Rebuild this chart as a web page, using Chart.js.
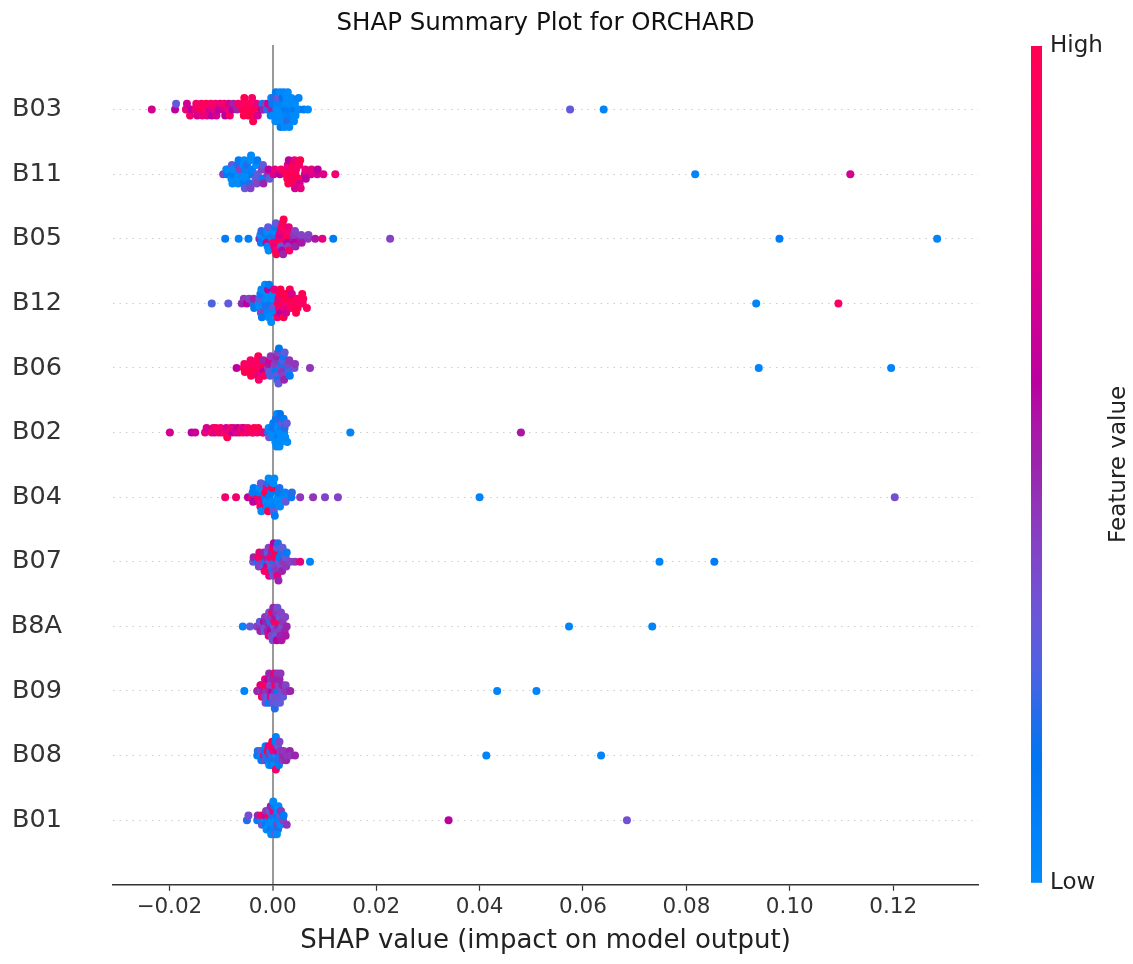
<!DOCTYPE html>
<html>
<head>
<meta charset="utf-8">
<title>SHAP Summary Plot for ORCHARD</title>
<script src="https://cdn.jsdelivr.net/npm/chart.js@4.4.1/dist/chart.umd.min.js"></script>
<style>
  body { margin: 0; background: #fff; }
  #wrap { width: 1133px; height: 964px; }
</style>
</head>
<body>
<div id="wrap"><canvas id="shapChart" width="1133" height="964"></canvas></div>
<script>
// features, top to bottom
var features = ['B03', 'B11', 'B05', 'B12', 'B06', 'B02', 'B04', 'B07', 'B8A', 'B09', 'B08', 'B01'];

var xTicks = [-0.02, 0, 0.02, 0.04, 0.06, 0.08, 0.10, 0.12];
var xTickLabels = ['\u22120.02', '0.00', '0.02', '0.04', '0.06', '0.08', '0.10', '0.12'];

// [shap value, feature value (0 = low, 1 = high)]
var b03 = [
  [-0.0234,.7],[-0.0189,.6],[-0.0187,.3],[-0.0168,.8],[-0.0166,.7],[-0.0160,.9],[-0.0157,.6],
  [-0.0150,.8],[-0.0148,.9],[-0.0146,.7],[-0.0140,1],[-0.0138,.9],[-0.0136,.8],
  [-0.0131,.9],[-0.0129,1],[-0.0127,.8],[-0.0122,.7],[-0.0120,.9],[-0.0118,.6],
  [-0.0113,.8],[-0.0111,.9],[-0.0109,.7],[-0.0104,.6],[-0.0102,.8],
  [-0.0096,.7],[-0.0094,.9],[-0.0092,.6],[-0.0087,.8],[-0.0085,.7],[-0.0083,.9],
  [-0.0078,.6],[-0.0076,.5],[-0.0069,.5],[-0.0067,.9],
  [-0.0059,1],[-0.0058,.9],[-0.0056,1],[-0.0055,1],
  [-0.0050,1],[-0.0049,.9],[-0.0047,1],[-0.0046,1],[-0.0045,.95],
  [-0.0041,1],[-0.0040,.9],[-0.0038,1],[-0.0036,1],
  [-0.0031,.8],[-0.0029,.7],[-0.0022,.6],[-0.0020,.1],[-0.0018,.5],
  [-0.0013,.4],[-0.0011,.2],[-0.0009,.7],
  [-0.0004,.1],[-0.0003,0],[-0.0002,.5],[-0.0001,.1],[0.0000,0],[0.0001,.2],
  [0.0005,0],[0.0006,.1],[0.0007,0],[0.0008,.05],[0.0009,0],[0.0010,.3],[0.0011,0],
  [0.0014,0],[0.0015,.1],[0.0016,0],[0.0017,.05],[0.0018,0],[0.0019,.15],[0.0020,0],[0.0021,.05],
  [0.0023,0],[0.0024,.1],[0.0025,0],[0.0026,.05],[0.0027,0],[0.0028,.2],[0.0029,0],
  [0.0032,0],[0.0033,.1],[0.0034,0],[0.0035,.05],[0.0036,0],
  [0.0041,0],[0.0042,.1],[0.0043,0],[0.0044,0],
  [0.0050,.05],[0.0051,0],[0.0060,.1],[0.0068,0],
  [0.0575,.3],[0.0640,.05]
];
var b11 = [
  [-0.0096,.4],
  [-0.0090,0],[-0.0089,.1],[-0.0087,0],
  [-0.0080,0],[-0.0079,.3],[-0.0078,0],[-0.0077,.1],[-0.0076,0],
  [-0.0069,0],[-0.0068,.2],[-0.0067,0],[-0.0066,.1],[-0.0065,0],[-0.0064,.4],[-0.0063,0],
  [-0.0057,0],[-0.0056,.1],[-0.0055,0],[-0.0054,.3],[-0.0053,0],[-0.0052,.05],[-0.0051,0],[-0.0050,.2],
  [-0.0045,.2],[-0.0044,0],[-0.0043,.4],[-0.0042,0],[-0.0041,.1],[-0.0040,.05],
  [-0.0033,.3],[-0.0032,0],[-0.0031,.4],[-0.0030,.1],[-0.0029,.3],
  [-0.0021,.4],[-0.0020,.1],[-0.0019,.3],[-0.0018,.5],
  [-0.0010,.45],[-0.0008,.6],[-0.0006,.3],
  [0.0002,.7],[0.0004,.8],
  [0.0014,.6],[0.0016,.9],
  [0.0026,1],[0.0027,.9],[0.0028,1],[0.0029,.8],[0.0030,1],[0.0031,.6],[0.0032,1],
  [0.0038,1],[0.0039,.9],[0.0040,1],[0.0041,1],[0.0042,.8],[0.0043,.7],[0.0044,1],[0.0045,.9],
  [0.0050,1],[0.0051,.9],[0.0052,.7],[0.0053,1],[0.0054,.8],
  [0.0062,.7],[0.0063,.8],[0.0064,.6],
  [0.0074,.7],[0.0075,.8],
  [0.0086,.7],[0.0087,.6],
  [0.0098,.75],[0.0121,.85],
  [0.0817,.05],[0.1117,.7]
];
var b05 = [
  [-0.0092,.1],[-0.0066,.05],[-0.0047,.1],
  [-0.0026,.5],[-0.0024,0],[-0.0023,.1],[-0.0022,.2],
  [-0.0014,0],[-0.0013,.1],[-0.0012,.7],[-0.0011,0],[-0.0010,.05],[-0.0009,.3],[-0.0008,0],
  [-0.0001,.05],[0.0000,.2],[0.0001,.9],[0.0002,0],[0.0003,.8],[0.0004,.1],[0.0005,.9],[0.0006,.3],[0.0007,1],
  [0.0012,.9],[0.0013,.7],[0.0014,1],[0.0015,.8],[0.0016,.3],[0.0017,.9],[0.0018,.6],[0.0019,.95],[0.0020,.5],[0.0021,1],
  [0.0026,.8],[0.0027,1],[0.0028,.6],[0.0029,.9],[0.0030,.4],[0.0031,.8],[0.0032,.9],
  [0.0040,.5],[0.0041,.45],[0.0042,.6],[0.0043,.4],[0.0044,.5],
  [0.0054,.5],[0.0055,.4],[0.0056,.55],
  [0.0068,.45],[0.0069,.4],
  [0.0082,.55],[0.0096,.8],[0.0117,.1],[0.0227,.4],
  [0.0980,.1],[0.1285,.05]
];
var b12 = [
  [-0.0118,.25],[-0.0086,.3],
  [-0.0060,.5],[-0.0056,.45],[-0.0050,.6],[-0.0046,.4],
  [-0.0038,.2],[-0.0037,.5],[-0.0036,.1],
  [-0.0027,0],[-0.0026,.3],[-0.0025,0],[-0.0024,.1],[-0.0023,.4],[-0.0022,0],[-0.0021,.1],
  [-0.0015,0],[-0.0014,.1],[-0.0013,0],[-0.0012,.2],[-0.0011,0],[-0.0010,.05],[-0.0009,.6],[-0.0008,0],[-0.0007,.1],
  [-0.0003,0],[-0.0002,.1],[-0.0001,0],[0.0000,.3],[0.0001,0],[0.0002,.05],[0.0003,.8],
  [0.0009,.9],[0.0010,1],[0.0011,.8],[0.0012,.9],[0.0013,1],[0.0014,.6],[0.0015,1],
  [0.0021,1],[0.0022,.9],[0.0023,1],[0.0024,.8],[0.0025,1],[0.0026,.7],
  [0.0033,1],[0.0034,.9],[0.0035,1],[0.0036,.95],[0.0037,.7],
  [0.0045,1],[0.0046,.9],[0.0047,.95],[0.0048,1],
  [0.0057,1],[0.0058,.9],[0.0059,.95],
  [0.0066,.95],
  [0.0935,.05],[0.1094,.9]
];
var b06 = [
  [-0.0070,.6],
  [-0.0056,1],[-0.0055,.9],[-0.0054,1],
  [-0.0046,1],[-0.0045,.95],[-0.0044,1],[-0.0043,.9],[-0.0042,1],
  [-0.0033,1],[-0.0032,.9],[-0.0031,1],[-0.0030,.95],[-0.0029,.8],[-0.0028,1],[-0.0027,.9],
  [-0.0021,.9],[-0.0020,1],[-0.0019,.6],[-0.0018,.5],[-0.0017,.9],
  [-0.0009,.4],[-0.0008,.55],[-0.0007,.3],[-0.0006,.7],[-0.0005,.25],[-0.0004,.45],
  [0.0003,.25],[0.0004,.4],[0.0005,.1],[0.0006,.45],[0.0007,.3],[0.0008,.5],[0.0009,.2],[0.0010,.4],[0.0011,.3],[0.0012,.15],
  [0.0016,.35],[0.0017,.2],[0.0018,.45],[0.0019,.25],[0.0020,.4],[0.0021,.1],[0.0022,.5],[0.0023,.3],
  [0.0029,.2],[0.0030,.4],[0.0031,.25],[0.0032,.45],[0.0033,.1],
  [0.0042,.35],[0.0043,.45],
  [0.0072,.45],
  [0.0940,.05],[0.1196,.05]
];
var b02 = [
  [-0.0199,.7],
  [-0.0157,.6],[-0.0150,.65],
  [-0.0131,.8],[-0.0128,.7],
  [-0.0118,.9],[-0.0115,.85],[-0.0112,.7],[-0.0110,.9],
  [-0.0104,1],[-0.0101,.9],[-0.0098,.8],
  [-0.0093,.9],[-0.0090,.7],[-0.0088,1],[-0.0086,.85],
  [-0.0081,.9],[-0.0078,.6],[-0.0076,.8],
  [-0.0071,.7],[-0.0068,.6],[-0.0065,.75],
  [-0.0060,.9],[-0.0058,1],[-0.0056,.7],
  [-0.0050,.8],[-0.0048,.9],
  [-0.0040,1],[-0.0038,.9],[-0.0036,1],
  [-0.0030,.9],[-0.0028,1],
  [-0.0020,1],[-0.0018,.8],
  [-0.0009,.1],[-0.0008,0],[-0.0007,.3],
  [-0.0002,0],[-0.0001,.1],[0.0000,0],[0.0001,.05],[0.0002,0],[0.0003,.2],[0.0003,0],[0.0002,.1],
  [0.0005,0],[0.0006,.1],[0.0007,0],[0.0008,0],[0.0009,.05],[0.0010,0],[0.0011,.1],[0.0012,0],[0.0009,0],[0.0010,.2],
  [0.0013,0],[0.0014,.15],[0.0015,0],[0.0016,.05],[0.0017,0],[0.0018,.3],[0.0016,0],
  [0.0021,.1],[0.0022,0],[0.0023,.2],[0.0024,0],
  [0.0027,.3],[0.0028,0],
  [0.0150,.05],[0.0480,.55]
];
var b04 = [
  [-0.0092,.85],[-0.0071,.85],[-0.0048,.6],
  [-0.0040,.9],[-0.0039,.1],[-0.0038,.6],[-0.0037,.1],
  [-0.0028,1],[-0.0027,.1],[-0.0026,.8],[-0.0025,0],[-0.0024,.9],[-0.0023,.3],[-0.0022,0],
  [-0.0015,.1],[-0.0014,1],[-0.0013,0],[-0.0012,.9],[-0.0011,.05],[-0.0010,.2],[-0.0009,1],[-0.0008,0],[-0.0007,.1],
  [-0.0003,.1],[-0.0002,0],[-0.0001,1],[0.0000,.05],[0.0001,0],[0.0002,.3],[0.0003,0],[0.0004,.1],
  [0.0010,0],[0.0011,.1],[0.0012,0],[0.0013,.2],[0.0014,0],
  [0.0023,0],[0.0024,.05],[0.0025,.3],
  [0.0036,.1],[0.0037,.2],
  [0.0053,.45],[0.0078,.45],[0.0101,.4],[0.0126,.4],
  [0.0400,.05],[0.1203,.35]
];
var b07 = [
  [-0.0038,.3],[-0.0037,.5],
  [-0.0029,.2],[-0.0028,.9],[-0.0027,.4],[-0.0026,.8],
  [-0.0020,.4],[-0.0019,1],[-0.0018,.3],[-0.0017,.5],[-0.0016,.9],[-0.0015,.2],
  [-0.0012,.5],[-0.0011,.7],[-0.0010,.3],[-0.0009,1],[-0.0008,.4],[-0.0007,.8],[-0.0006,.35],[-0.0005,.9],
  [-0.0003,.3],[-0.0002,.5],[-0.0001,.2],[0.0000,1],[0.0001,.35],[0.0002,.6],[0.0003,.1],[0.0004,.9],
  [0.0005,.4],[0.0006,1],[0.0007,.45],[0.0008,.3],[0.0009,.8],[0.0010,.2],[0.0011,.5],[0.0012,.35],[0.0013,.1],
  [0.0016,.35],[0.0017,.2],[0.0018,.5],[0.0019,.3],[0.0020,.45],
  [0.0025,.3],[0.0026,.45],[0.0027,.1],
  [0.0034,.4],
  [0.0043,.45],[0.0053,.8],[0.0072,.05],
  [0.0748,.05],[0.0854,.1]
];
var b8a = [
  [-0.0058,.05],[-0.0044,.3],[-0.0031,.4],
  [-0.0026,.45],[-0.0025,.3],[-0.0024,.5],
  [-0.0018,.4],[-0.0017,.6],[-0.0016,.3],[-0.0015,.45],[-0.0014,.35],[-0.0013,.5],
  [-0.0010,.5],[-0.0009,.4],[-0.0008,.8],[-0.0007,.35],[-0.0006,.5],[-0.0005,.2],[-0.0004,.6],[-0.0003,.45],
  [-0.0002,.4],[-0.0001,1],[0.0000,.35],[0.0001,.5],[0.0002,.3],[0.0003,.9],[0.0004,.4],[0.0005,.55],[0.0006,.3],
  [0.0007,.45],[0.0008,.6],[0.0009,.35],[0.0010,.5],[0.0011,1],[0.0012,.4],[0.0013,.3],
  [0.0015,.5],[0.0016,.4],[0.0017,.55],[0.0018,.35],[0.0019,.45],
  [0.0023,.5],[0.0024,.4],[0.0025,.55],
  [0.0027,.5],
  [0.0573,.05],[0.0734,.05]
];
var b09 = [
  [-0.0055,.05],
  [-0.0030,.8],[-0.0029,.5],
  [-0.0024,.9],[-0.0023,.45],[-0.0022,.7],[-0.0021,.9],
  [-0.0018,.5],[-0.0017,1],[-0.0016,.4],[-0.0015,.8],[-0.0014,.35],
  [-0.0012,.45],[-0.0011,.9],[-0.0010,.3],[-0.0009,.6],[-0.0008,.1],[-0.0007,.5],
  [-0.0006,.5],[-0.0005,.35],[-0.0004,.8],[-0.0003,.45],[-0.0002,.2],[-0.0001,.6],[-0.0001,.4],
  [0.0000,.3],[0.0001,.5],[0.0002,.35],[0.0003,.8],[0.0004,.2],[0.0005,.45],[0.0005,.9],
  [0.0006,.35],[0.0007,.5],[0.0008,.3],[0.0009,.45],[0.0010,.1],[0.0011,.4],
  [0.0012,.35],[0.0013,.5],[0.0014,.3],[0.0015,.45],
  [0.0018,.35],[0.0019,.5],[0.0020,.3],
  [0.0024,.45],[0.0025,.4],
  [0.0030,.45],[0.0034,.5],
  [0.0434,.05],[0.0510,.05]
];
var b08 = [
  [-0.0030,.1],[-0.0029,.2],
  [-0.0024,.05],[-0.0023,.3],[-0.0022,.1],
  [-0.0017,.9],[-0.0016,.1],[-0.0015,.4],[-0.0014,.05],[-0.0013,.2],
  [-0.0010,1],[-0.0009,.1],[-0.0008,.8],[-0.0007,0],[-0.0006,.45],[-0.0005,.2],[-0.0004,.1],
  [-0.0003,.9],[-0.0002,.1],[-0.0001,1],[0.0000,.05],[0.0001,.8],[0.0002,.2],[0.0003,.95],[0.0002,0],
  [0.0005,.1],[0.0006,.9],[0.0007,0],[0.0008,.7],[0.0009,.2],[0.0010,.3],[0.0006,.05],
  [0.0012,.1],[0.0013,.4],[0.0014,.2],[0.0015,.45],
  [0.0019,.45],[0.0020,.5],[0.0021,.45],
  [0.0026,.5],[0.0027,.45],
  [0.0033,.5],[0.0034,.45],
  [0.0043,.5],
  [0.0413,.05],[0.0635,.05]
];
var b01 = [
  [-0.0050,.2],[-0.0047,.35],
  [-0.0030,.1],[-0.0029,.5],
  [-0.0023,.05],[-0.0022,.9],[-0.0021,.3],
  [-0.0016,0],[-0.0015,.7],[-0.0014,.1],[-0.0013,.45],[-0.0012,0],
  [-0.0009,.05],[-0.0008,.9],[-0.0007,0],[-0.0006,.3],[-0.0005,.1],[-0.0004,.5],[-0.0003,0],
  [-0.0002,0],[-0.0001,.2],[0.0000,0],[0.0001,.8],[0.0002,.05],[0.0003,.1],[0.0004,.3],[0.0001,0],
  [0.0006,0],[0.0007,.1],[0.0008,.4],[0.0009,.05],[0.0010,.2],[0.0011,0],[0.0008,0],
  [0.0013,.05],[0.0014,.3],[0.0015,0],[0.0016,.45],
  [0.0020,.4],[0.0021,.1],
  [0.0027,.45],
  [0.0340,.6],[0.0685,.35]
];

var rows = [b03, b11, b05, b12, b06, b02, b04, b07, b8a, b09, b08, b01];

var FONT = "'DejaVu Sans', sans-serif";

// shap's red_blue map: interpolation in LCh, then to sRGB
function redBlue(t) {
  t = Math.min(1, Math.max(0, t));
  var L = t < 0.5 ? 54 - 14 * t / 0.5 : 40 + 14 * (t - 0.5) / 0.5;
  var C = 70 + 20 * t;
  var H = 4.6588 + (0.35470565 + 2 * Math.PI - 4.6588) * t;
  var a = C * Math.cos(H), b = C * Math.sin(H);
  var fy = (L + 16) / 116, fx = fy + a / 500, fz = fy - b / 200;
  function finv(v) { return v > 6 / 29 ? v * v * v : 3 * (6 / 29) * (6 / 29) * (v - 4 / 29); }
  var X = 0.95047 * finv(fx), Y = finv(fy), Z = 1.08883 * finv(fz);
  var lin = [3.2406 * X - 1.5372 * Y - 0.4986 * Z,
             -0.9689 * X + 1.8758 * Y + 0.0415 * Z,
             0.0557 * X - 0.2040 * Y + 1.0570 * Z];
  return 'rgb(' + lin.map(function (v) {
    v = v <= 0.0031308 ? 12.92 * v : 1.055 * Math.pow(v, 1 / 2.4) - 0.055;
    return Math.round(255 * Math.min(1, Math.max(0, v)));
  }).join(',') + ')';
}

// beeswarm offsets, same binning as shap's dot summary
function swarm(xs) {
  var lo = Math.min.apply(null, xs), hi = Math.max.apply(null, xs);
  var quant = xs.map(function (v) { return Math.round(100 * (v - lo) / (hi - lo + 1e-8)); });
  var order = xs.map(function (_, i) { return i; })
    .sort(function (a, b) { return quant[a] - quant[b] || a - b; });
  var ys = xs.map(function () { return 0; });
  var layer = 0, last = -1;
  order.forEach(function (i) {
    if (quant[i] !== last) layer = 0;
    ys[i] = Math.ceil(layer / 2) * ((layer % 2) * 2 - 1);
    layer++;
    last = quant[i];
  });
  var top = Math.max.apply(null, ys) + 1;
  return ys.map(function (v) { return v * 0.9 * (0.4 / top); });
}

var datasets = rows.map(function (row, r) {
  var pos = features.length - 1 - r;
  var ys = swarm(row.map(function (p) { return p[0]; }));
  return {
    label: features[r],
    data: row.map(function (p, i) { return { x: p[0], y: pos + ys[i] }; }),
    pointBackgroundColor: row.map(function (p) { return redBlue(p[1]); }),
    pointBorderWidth: 0,
    pointRadius: 4,
    pointHoverRadius: 4
  };
});

var colorbar = {
  id: 'colorbar',
  afterDraw: function (chart) {
    var ctx = chart.ctx, area = chart.chartArea;
    var left = area.right + 53, w = 11, top = area.top + 1, bottom = area.bottom - 2;
    var grad = ctx.createLinearGradient(0, bottom, 0, top);
    for (var i = 0; i <= 20; i++) grad.addColorStop(i / 20, redBlue(i / 20));
    ctx.save();
    ctx.fillStyle = grad;
    ctx.fillRect(left, top, w, bottom - top);
    ctx.fillStyle = '#222';
    ctx.font = '23px ' + FONT;
    ctx.textBaseline = 'middle';
    ctx.textAlign = 'left';
    ctx.fillText('High', left + w + 8, top);
    ctx.fillText('Low', left + w + 8, bottom);
    ctx.translate(left + 88, (top + bottom) / 2);
    ctx.rotate(-Math.PI / 2);
    ctx.textAlign = 'center';
    ctx.fillText('Feature value', 0, 0);
    ctx.restore();
  }
};

new Chart(document.getElementById('shapChart'), {
  type: 'scatter',
  data: { datasets: datasets },
  plugins: [colorbar],
  options: {
    responsive: false,
    animation: false,
    events: [],
    layout: { padding: { left: 0, right: 155, top: 0, bottom: 0 } },
    plugins: {
      legend: { display: false },
      tooltip: { enabled: false },
      title: {
        display: true,
        text: 'SHAP Summary Plot for ORCHARD',
        fullSize: false,
        color: '#111',
        font: { family: FONT, size: 24.5, weight: 'normal' },
        padding: { top: 9, bottom: 6.6 }
      }
    },
    scales: {
      x: {
        type: 'linear',
        min: -0.0309,
        max: 0.1364,
        afterBuildTicks: function (s) { s.ticks = xTicks.map(function (v) { return { value: v }; }); },
        afterFit: function (s) { s.height = 79.2; s.paddingLeft = 0; s.paddingRight = 0; },
        ticks: {
          autoSkip: false,
          maxRotation: 0,
          padding: 4,
          color: '#333',
          font: { family: FONT, size: 21.5 },
          callback: function (v) { return xTickLabels[xTicks.indexOf(v)]; }
        },
        grid: {
          color: function (c) { return c.tick && c.tick.value === 0 ? '#999' : 'rgba(0,0,0,0)'; },
          lineWidth: function (c) { return c.tick && c.tick.value === 0 ? 2 : 1; },
          tickColor: '#333',
          tickWidth: 1.2,
          tickLength: 6
        },
        border: { display: true, color: '#333', width: 1.5 },
        title: {
          display: true,
          text: 'SHAP value (impact on model output)',
          color: '#222',
          font: { family: FONT, size: 26 },
          padding: { top: 0, bottom: 7.4 }
        }
      },
      y: {
        type: 'linear',
        min: -1,
        max: 12,
        afterBuildTicks: function (s) { s.ticks = features.map(function (f, i) { return { value: i }; }); },
        afterFit: function (s) { s.width = 113; s.paddingTop = 0; s.paddingBottom = 0; },
        ticks: {
          autoSkip: false,
          padding: 51,
          color: '#333',
          font: { family: FONT, size: 25.5 },
          callback: function (v) { return features[features.length - 1 - v]; }
        },
        grid: { color: '#ccc', lineWidth: 1, drawTicks: false },
        border: { display: false, dash: [1.5, 5] }
      }
    }
  }
});
</script>
</body>
</html>
